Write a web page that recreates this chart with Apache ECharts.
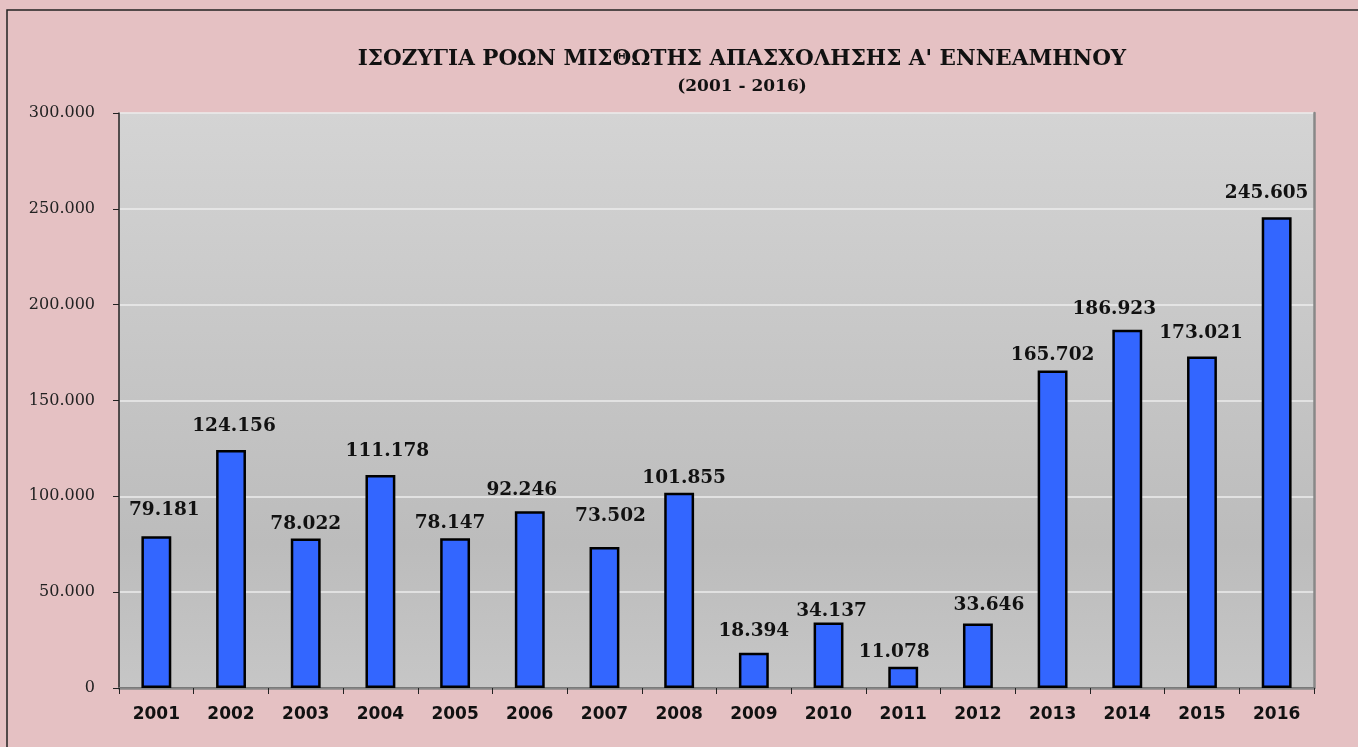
<!DOCTYPE html>
<html>
<head>
<meta charset="utf-8">
<script src="https://cdn.jsdelivr.net/npm/echarts@6/dist/echarts.min.js"></script>
<style>
  html, body { margin: 0; padding: 0; background: #e5c1c3; }
  #main { width: 1358px; height: 747px; }
</style>
</head>
<body>
<div id="main"></div>
<script>
// Δεδομένα
var years = ['2001', '2002', '2003', '2004', '2005', '2006', '2007', '2008',
  '2009', '2010', '2011', '2012', '2013', '2014', '2015', '2016'];
var balance = [79181, 124156, 78022, 111178, 78147, 92246, 73502, 101855,
  18394, 34137, 11078, 33646, 165702, 186923, 173021, 245605];
var yTicks = [0, 50000, 100000, 150000, 200000, 250000, 300000];

// μετατοπίσεις ετικετών όπως στο πρωτότυπο (px)
var labelShiftX = [8, 3, 0, 7, -5, -8, 6, 5, 0, 3, -9, 11, 0, -13, -1, -10];
var labelGap = [17, 14, 5, 14, 6, 12, 21, 5, 12, 2, 5, 9, 6, 11, 14, 15];

function fmt(v) {
  // τελεία για χιλιάδες
  return String(v).replace(/\B(?=(\d{3})+(?!\d))/g, '.');
}

var chart = echarts.init(document.getElementById('main'));

var barData = balance.map(function (v, i) {
  return {
    value: v,
    label: { distance: labelGap[i], offset: [labelShiftX[i], 0] }
  };
});

var option = {
  backgroundColor: '#e5c1c3',
  animation: false,
  title: [
    {
      text: 'ΙΣΟΖΥΓΙΑ ΡΟΩΝ ΜΙΣΘΩΤΗΣ ΑΠΑΣΧΟΛΗΣΗΣ Α\' ΕΝΝΕΑΜΗΝΟΥ',
      left: 737, top: 43, textAlign: 'center',
      textStyle: { fontFamily: 'DejaVu Serif', fontWeight: 'bold', fontSize: 21.5, color: '#111' }
    },
    {
      text: '(2001 - 2016)',
      left: 737, top: 73, textAlign: 'center',
      textStyle: { fontFamily: 'DejaVu Serif', fontWeight: 'bold', fontSize: 17, color: '#111' }
    }
  ],
  graphic: [
    {
      type: 'rect', silent: true, z: 100,
      shape: { x: 7, y: 10, width: 1400, height: 800 },
      style: { fill: 'none', stroke: '#222', lineWidth: 1.5 }
    }
  ],
  grid: {
    left: 119, top: 113, width: 1195, height: 575,
    show: true,
    borderWidth: 0,
    backgroundColor: new echarts.graphic.LinearGradient(0, 0, 0, 1, [
      { offset: 0, color: '#d4d4d4' },
      { offset: 0.75, color: '#bcbcbc' },
      { offset: 1, color: '#c6c6c6' }
    ])
  },
  xAxis: [
    {
      type: 'category',
      data: years,
      axisLine: { lineStyle: { color: '#222', width: 1.5 } },
      axisTick: { show: true, length: 6, lineStyle: { color: '#222' } },
      axisLabel: {
        margin: 18,
        fontFamily: 'DejaVu Sans', fontWeight: 'bold', fontSize: 17, color: '#111'
      }
    },
    {
      type: 'category',
      data: years,
      position: 'top',
      axisLine: { lineStyle: { color: '#888', width: 2.5 } },
      axisTick: { show: false },
      axisLabel: { show: false }
    }
  ],
  yAxis: [
    {
      type: 'value',
      min: yTicks[0], max: yTicks[yTicks.length - 1], interval: 50000,
      axisLine: { show: true, lineStyle: { color: '#222', width: 1.5 } },
      axisTick: { show: true, length: 6, lineStyle: { color: '#222' } },
      axisLabel: {
        margin: 24,
        fontFamily: 'DejaVu Serif', fontSize: 16, color: '#222',
        formatter: function (v) { return fmt(v); }
      },
      splitLine: { lineStyle: { color: '#ececec', width: 1.5 } }
    },
    {
      type: 'value',
      position: 'right',
      min: yTicks[0], max: yTicks[yTicks.length - 1], interval: 50000,
      axisLine: { show: true, lineStyle: { color: '#888', width: 2.5 } },
      axisTick: { show: false },
      axisLabel: { show: false },
      splitLine: { show: false }
    }
  ],
  series: [
    {
      type: 'bar',
      data: barData,
      barWidth: '40%',
      itemStyle: { color: '#3366ff', borderColor: '#000', borderWidth: 2.5 },
      label: {
        show: true,
        position: 'top',
        fontFamily: 'DejaVu Serif', fontWeight: 'bold', fontSize: 18.5, color: '#111',
        formatter: function (p) { return fmt(p.value); }
      }
    }
  ]
};

chart.setOption(option);
</script>
</body>
</html>
